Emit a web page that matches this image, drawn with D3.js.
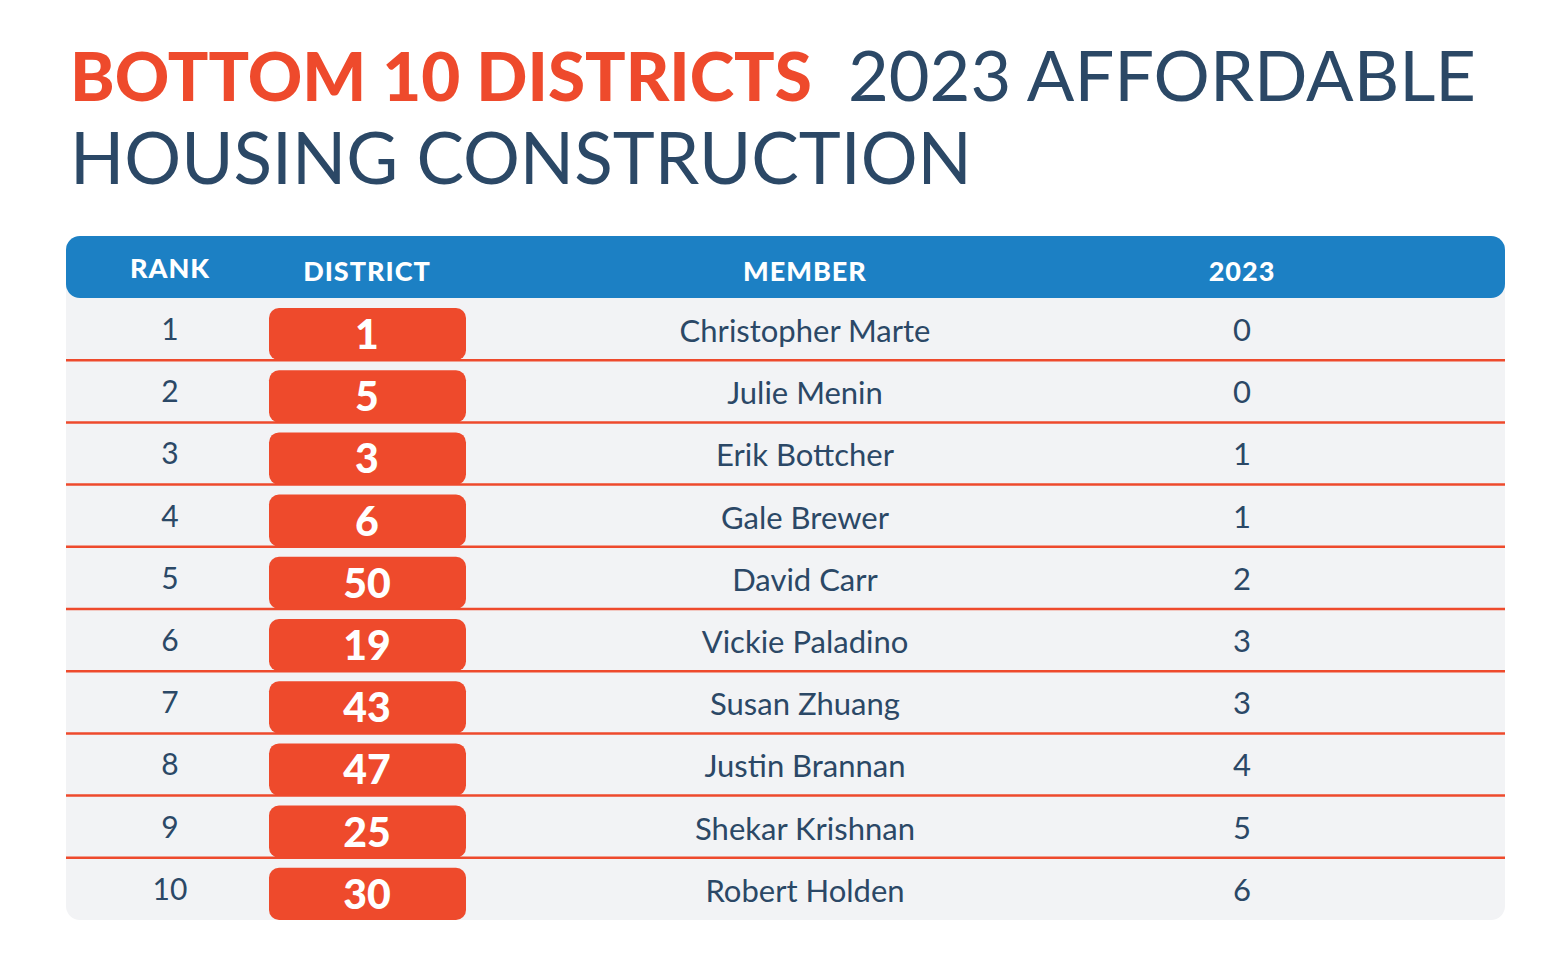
<!DOCTYPE html>
<html>
<head>
<meta charset="utf-8">
<script src="https://cdn.jsdelivr.net/npm/d3@7"></script>
<style>
  body { margin: 0; background: #fff; }
  text { font-family: Lato, "Open Sans", sans-serif; }
</style>
</head>
<body>
<div id="chart"></div>
<script>
var ranks = [1, 2, 3, 4, 5, 6, 7, 8, 9, 10];
var districts = [1, 5, 3, 6, 50, 19, 43, 47, 25, 30];
var members = ["Christopher Marte", "Julie Menin", "Erik Bottcher", "Gale Brewer", "David Carr",
  "Vickie Paladino", "Susan Zhuang", "Justin Brannan", "Shekar Krishnan", "Robert Holden"];
var units2023 = [0, 0, 1, 1, 2, 3, 3, 4, 5, 6];
var headers = ["RANK", "DISTRICT", "MEMBER", "2023"];

var W = 1560, H = 959;
var red = "#ee4a2c", blue = "#1c80c4", ink = "#2b4866";

var svg = d3.select("#chart").append("svg").attr("width", W).attr("height", H);

// title, sized to fit its measured width
function fitText(sel, width) {
  var len = sel.node().getComputedTextLength();
  var fs = parseFloat(sel.attr("font-size"));
  sel.attr("font-size", fs * width / len);
}
var t1 = svg.append("text").attr("x", 70).attr("y", 101).attr("font-size", 66)
  .attr("font-weight", 900).attr("fill", red).text("BOTTOM 10 DISTRICTS");
fitText(t1, 742);
var t2 = svg.append("text").attr("x", 848).attr("y", 101).attr("font-size", 66)
  .attr("fill", ink).text("2023 AFFORDABLE");
fitText(t2, 628);
var t3 = svg.append("text").attr("x", 70).attr("y", 184).attr("font-size", 66)
  .attr("fill", ink).text("HOUSING CONSTRUCTION");
fitText(t3, 902);

// table geometry
var left = 66, right = 1505, headTop = 236, headBottom = 298, bottom = 920;
var y = d3.scaleBand().domain(ranks).range([headBottom, bottom]);
var col = d3.scaleOrdinal().domain(headers).range([170, 367, 805, 1242]);

// body background with rounded corners
svg.append("rect").attr("x", left).attr("y", headTop + 20).attr("width", right - left)
  .attr("height", bottom - headTop - 20).attr("rx", 14).attr("fill", "#f2f3f5");
// header bar
svg.append("rect").attr("x", left).attr("y", headTop).attr("width", right - left)
  .attr("height", headBottom - headTop).attr("rx", 14).attr("fill", blue);

svg.selectAll(".head").data(headers).enter().append("text")
  .attr("x", function (d) { return col(d); })
  .attr("y", function (d, i) { return i == 0 ? 278 : 281; })
  .attr("text-anchor", "middle").attr("font-size", 27).attr("font-weight", 900)
  .attr("fill", "#fff").attr("letter-spacing", 1).text(function (d) { return d; });

// row separators
svg.selectAll(".sep").data(ranks.slice(1)).enter().append("line")
  .attr("x1", left).attr("x2", right)
  .attr("y1", function (d) { return y(d); }).attr("y2", function (d) { return y(d); })
  .attr("stroke", red).attr("stroke-width", 2.5);

var rows = svg.selectAll(".row").data(ranks).enter().append("g")
  .attr("transform", function (d) { return "translate(0," + y(d) + ")"; });

rows.append("text").attr("x", col("RANK")).attr("y", 42)
  .attr("text-anchor", "middle").attr("font-size", 30)
  .attr("fill", ink).text(function (d) { return d; });

rows.append("rect").attr("x", 269).attr("y", 10).attr("width", 197)
  .attr("height", y.bandwidth() - 10).attr("rx", 10).attr("fill", red);
rows.append("text").attr("x", col("DISTRICT")).attr("y", 51)
  .attr("text-anchor", "middle").attr("font-size", 41).attr("font-weight", 900)
  .attr("fill", "#fff").text(function (d, i) { return districts[i]; });

rows.append("text").attr("x", col("MEMBER")).attr("y", 44)
  .attr("text-anchor", "middle").attr("font-size", 31)
  .attr("fill", ink).text(function (d, i) { return members[i]; });

rows.append("text").attr("x", col("2023")).attr("y", 43)
  .attr("text-anchor", "middle").attr("font-size", 31)
  .attr("fill", ink).text(function (d, i) { return units2023[i]; });
</script>
</body>
</html>
